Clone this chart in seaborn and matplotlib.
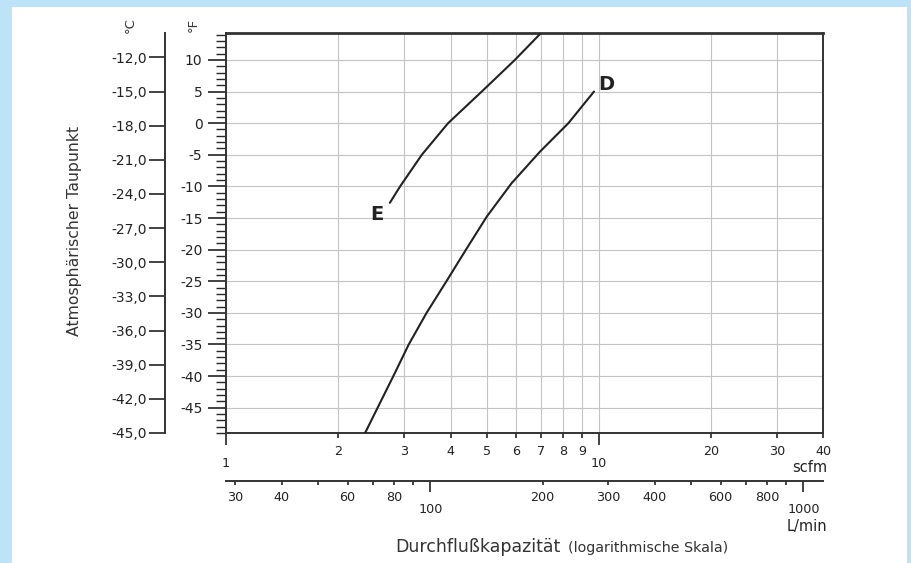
import numpy as np
import pandas as pd
import matplotlib
matplotlib.use("Agg")
import matplotlib.pyplot as plt
from matplotlib.patches import Rectangle
from matplotlib.ticker import FixedLocator, FuncFormatter
import seaborn as sns

# ---------------- data ----------------
curve_e_flow = [2.75, 2.93, 3.35, 3.94, 4.85, 5.95, 6.95]            # scfm
curve_e_dew_f = [-12.6, -10, -5, 0, 5, 10, 14.1]                     # °F
curve_d_flow = [2.36, 2.55, 2.81, 3.09, 3.45, 3.9, 4.4, 5.0, 5.83, 6.95, 8.28, 9.7]
curve_d_dew_f = [-49, -45, -40, -35, -30, -25, -20, -14.8, -9.5, -4.5, 0, 5]
curve_names = ["E", "D"]

f_major_ticks = [10, 5, 0, -5, -10, -15, -20, -25, -30, -35, -40, -45]
c_ticks = [-12, -15, -18, -21, -24, -27, -30, -33, -36, -39, -42, -45]
scfm_major = [1, 10]
scfm_minor = [2, 3, 4, 5, 6, 7, 8, 9, 20, 30, 40]
lmin_major = [100, 1000]
lmin_minor = [30, 40, 50, 60, 70, 80, 90, 200, 300, 400, 500, 600, 700, 800, 900]
lmin_minor_labeled = [30, 40, 60, 80, 200, 300, 400, 600, 800]
y_range_f = [-49, 14.26]
x_range_scfm = [1, 40]
LMIN_PER_SCFM = 28.3168

# ---------------- style ----------------
sns.set_theme(style="white")
plt.rcParams['font.family'] = ['DejaVu Sans']
plt.rcParams['axes.unicode_minus'] = False

W, H = 912, 563
fig = plt.figure(figsize=(W / 100, H / 100), dpi=100)
fig.patch.set_facecolor('#bde3f8')

def fx(px):
    return px / W

def fy(py):
    return 1 - py / H

fig.add_artist(Rectangle((fx(12), 0), fx(907) - fx(12), fy(7), transform=fig.transFigure,
                         facecolor='white', edgecolor='none', zorder=0))

ax = fig.add_axes([fx(226), fy(433), fx(823.5) - fx(226), fy(33) - fy(433)])
ax.set_facecolor('white')

df = pd.concat([
    pd.DataFrame({'flow': curve_e_flow, 'dew': curve_e_dew_f, 'curve': curve_names[0]}),
    pd.DataFrame({'flow': curve_d_flow, 'dew': curve_d_dew_f, 'curve': curve_names[1]}),
])
ink = '#222222'
sns.lineplot(data=df, x='flow', y='dew', hue='curve', palette={'E': ink, 'D': ink},
             estimator=None, sort=False, legend=False, linewidth=1.5, ax=ax, zorder=5)

ax.set_xscale('log')
ax.set_xlim(*x_range_scfm)
ax.set_ylim(*y_range_f)
ax.set_xlabel('')
ax.set_ylabel('')

# curve labels
ax.annotate(curve_names[0], xy=(curve_e_flow[0], curve_e_dew_f[0]), xytext=(-9, -8.5),
            textcoords='offset points', ha='center', va='center', fontsize=14,
            fontweight='bold', color=ink)
ax.annotate(curve_names[1], xy=(curve_d_flow[-1], curve_d_dew_f[-1]), xytext=(8.5, 5),
            textcoords='offset points', ha='center', va='center', fontsize=14,
            fontweight='bold', color=ink)

spine_col = '#333333'
for s in ax.spines.values():
    s.set_visible(True)
    s.set_color(spine_col)
    s.set_linewidth(1.4)
ax.spines['top'].set_linewidth(2.0)

# x axis (scfm)
ax.xaxis.set_major_locator(FixedLocator(scfm_major))
ax.xaxis.set_minor_locator(FixedLocator(scfm_minor))
ax.xaxis.set_major_formatter(FuncFormatter(lambda v, p: f"{v:g}"))
ax.xaxis.set_minor_formatter(FuncFormatter(lambda v, p: f"{v:g}"))
ax.tick_params(axis='x', which='major', direction='out', length=8.6, width=1.2,
               pad=9.0, labelsize=9.2, colors=ink, bottom=True)
ax.tick_params(axis='x', which='minor', direction='out', length=3.6, width=1.2,
               pad=4.8, labelsize=9.2, colors=ink, bottom=True)

# y axis (°F)
ax.yaxis.set_major_locator(FixedLocator(f_major_ticks))
ax.yaxis.set_minor_locator(FixedLocator(list(range(-49, 15))))
ax.yaxis.set_major_formatter(FuncFormatter(lambda v, p: f"{v:g}"))
ax.tick_params(axis='y', which='major', direction='out', length=13, width=1.2,
               pad=4.0, labelsize=10, colors=ink, left=True)
ax.tick_params(axis='y', which='minor', direction='out', length=7, width=1.0, left=True)

ax.grid(True, which='major', axis='y', color='#c4c4c4', linewidth=0.8)
ax.grid(True, which='both', axis='x', color='#c4c4c4', linewidth=0.8)
ax.set_axisbelow(True)

# °C axis
secy = ax.secondary_yaxis(-61 / 597.5, functions=(lambda f: (f - 32) * 5 / 9,
                                                    lambda c: c * 9 / 5 + 32))
secy.yaxis.set_major_locator(FixedLocator(c_ticks))
secy.yaxis.set_minor_locator(FixedLocator([]))
secy.yaxis.set_major_formatter(FuncFormatter(lambda v, p: f"{v:.1f}".replace('.', ',')))
secy.tick_params(axis='y', which='major', direction='out', length=11.5, width=1.2,
                 pad=1.5, labelsize=10, colors=ink)
secy.spines['left'].set_color(spine_col)
secy.spines['left'].set_linewidth(1.4)

# L/min axis
secx = ax.secondary_xaxis(-48 / 400, functions=(lambda x: x * LMIN_PER_SCFM,
                                                  lambda l: l / LMIN_PER_SCFM))
secx.xaxis.set_major_locator(FixedLocator(lmin_major))
secx.xaxis.set_minor_locator(FixedLocator(lmin_minor))
secx.xaxis.set_major_formatter(FuncFormatter(lambda v, p: f"{v:g}"))
secx.xaxis.set_minor_formatter(FuncFormatter(
    lambda v, p: f"{v:g}" if any(abs(v - t) < 1e-6 for t in lmin_minor_labeled) else ""))
secx.tick_params(axis='x', which='major', direction='out', length=8, width=1.2,
                 pad=7.5, labelsize=9.2, colors=ink)
secx.tick_params(axis='x', which='minor', direction='out', length=3, width=1.2,
                 pad=4.0, labelsize=9.2, colors=ink)
secx.spines['bottom'].set_color(spine_col)
secx.spines['bottom'].set_linewidth(1.4)

# texts
txt_col = '#333333'
fig.text(fx(75), fy(231), 'Atmosphärischer Taupunkt', rotation=90, ha='center',
         va='center', fontsize=11.3, color=txt_col)
fig.text(fx(130), fy(25), '°C', rotation=90, ha='center', va='center', fontsize=9.5,
         color=txt_col)
fig.text(fx(193), fy(25), '°F', rotation=90, ha='center', va='center', fontsize=9.5,
         color=txt_col)
fig.text(fx(827), fy(468), 'scfm', ha='right', va='center', fontsize=10.5, color=ink)
fig.text(fx(827), fy(527), 'L/min', ha='right', va='center', fontsize=10.5, color=ink)
fig.text(fx(395), fy(547), 'Durchflußkapazität', ha='left', va='center',
         fontsize=12.5, color=txt_col)
fig.text(fx(568), fy(548), '(logarithmische Skala)', ha='left', va='center',
         fontsize=10.3, color=txt_col)

fig.savefig('out.png', dpi=100, facecolor=fig.get_facecolor())
